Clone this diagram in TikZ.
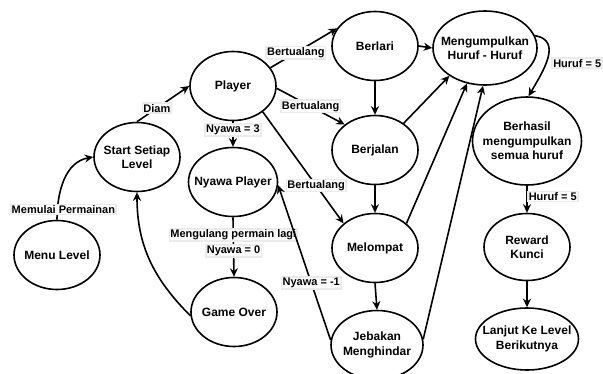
\documentclass[tikz,border=0pt]{standalone}
\usepackage{fontspec}
\setmainfont{Liberation Sans}
\usetikzlibrary{shapes.geometric, arrows.meta, positioning}

\tikzset{
  estado/.style={ellipse, draw, line width=1.6pt, inner xsep=-12pt, inner ysep=-6pt, align=center,
    font=\fontsize{12}{14.5}\selectfont\bfseries, minimum width=86pt, minimum height=69pt},
  flecha/.style={line width=1.6pt, -{Stealth[length=8.5pt,width=8pt]}},
  etiqueta/.style={fill=white, draw=black!8, inner sep=1pt,
    font=\fontsize{11}{13}\selectfont\bfseries},
}

\begin{document}
\begin{tikzpicture}[x=1pt,y=-1pt]
        \useasboundingbox (0,0) rectangle (603,373);
        % Estados del juego
        \node[estado] (menu) at (57,255) {Menu Level};
        \node[estado] (start) at (137,157) {Start Setiap\\Level};
        \node[estado] (player) at (233,86) {Player};
        \node[estado, minimum width=89pt] (nyawa) at (233,182) {Nyawa Player};
        \node[estado] (gameover) at (234,312) {Game Over};
        \node[estado] (berlari) at (375,46) {Berlari};
        \node[estado] (berjalan) at (375,150) {Berjalan};
        \node[estado] (melompat) at (375,248) {Melompat};
        \node[estado, minimum width=92pt] (jebakan) at (377,345) {Jebakan\\Menghindar};
        \node[estado, minimum width=104pt, minimum height=74pt] (kumpul) at (485,48) {Mengumpulkan\\Huruf - Huruf};
        \node[estado, minimum width=109pt, minimum height=88pt] (berhasil) at (527,141) {Berhasil\\mengumpulkan\\semua huruf};
        \node[estado, minimum height=67pt] (reward) at (527,247) {Reward\\Kunci};
        \node[estado, minimum width=103pt, minimum height=62pt] (lanjut) at (527,339) {Lanjut Ke Level\\Berikutnya};

        % Transiciones de la izquierda
        \draw[flecha] (menu.north) to[out=90,in=190] node[etiqueta, pos=0.12, xshift=6pt] {Memulai Permainan} (start.west);
        \draw[flecha] (start.north) -- node[etiqueta, pos=0.38] {Diam} (player.west);
        \draw[flecha] (gameover.185) to[out=135,in=-90] (start.south);
        \draw[flecha] (player.south) -- node[etiqueta, pos=0.35] {Nyawa = 3} (nyawa.north);
        \draw[flecha] (nyawa.south) -- node[etiqueta, pos=0.3] {Mengulang permain lagi}
            node[etiqueta, pos=0.57] {Nyawa = 0} (gameover.north);
        \draw[flecha] (jebakan.174) -- node[etiqueta, pos=0.37] {Nyawa = -1} (nyawa.-4);

        % Transiciones del jugador
        \draw[flecha] (player.26) -- node[etiqueta, pos=0.38] {Bertualang} (berlari.155);
        \draw[flecha] (player.-3) -- node[etiqueta, pos=0.5] {Bertualang} (berjalan.140);
        \draw[flecha] (player.-41) -- node[etiqueta, pos=0.66] {Bertualang} (melompat.142);
        \draw[flecha] (berlari.south) -- (berjalan.north);
        \draw[flecha] (berjalan.south) -- (melompat.north);
        \draw[flecha] (melompat.south) -- (jebakan.north);

        % Recoger las letras
        \draw[flecha] (berlari.east) -- (kumpul.west);
        \draw[flecha] (berjalan.43) -- (kumpul.218);
        \draw[flecha] (melompat.38) -- (kumpul.243);
        \draw[flecha] (jebakan.7) -- (kumpul.267);
        \draw[flecha] (kumpul.14) to[out=-10,in=60,looseness=1.2] node[etiqueta, right, pos=0.45, xshift=3pt, yshift=-8pt] {Huruf = 5} (berhasil.88);
        \draw[flecha] (berhasil.south) -- node[etiqueta, right, pos=0.4] {Huruf = 5} (reward.north);
        \draw[flecha] (reward.south) -- (lanjut.north);
    \end{tikzpicture}
\end{document}
